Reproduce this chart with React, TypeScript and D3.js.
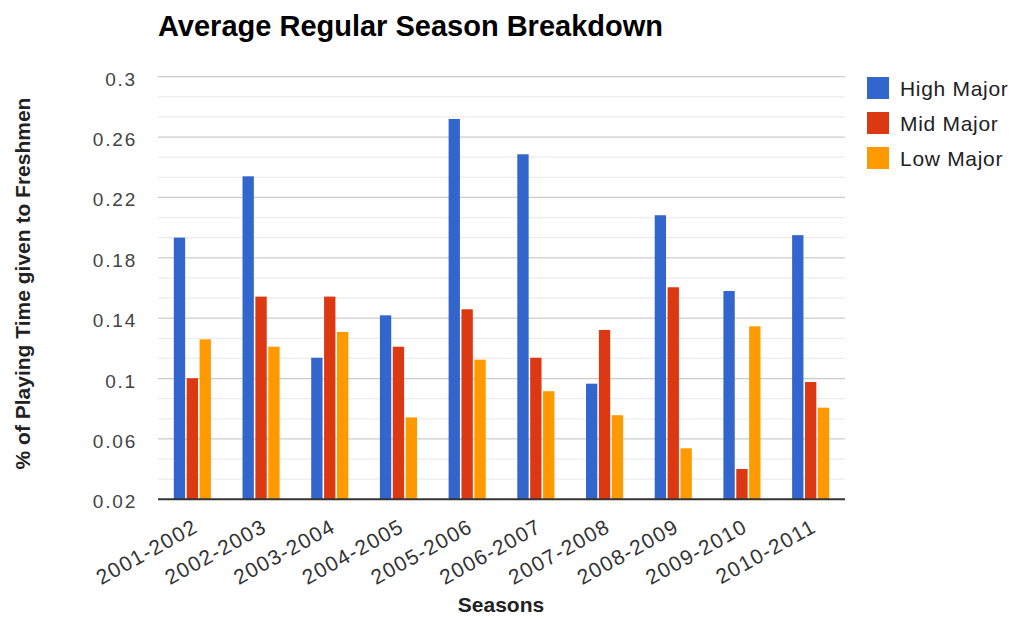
import React from "react";
import * as d3 from "d3";

const seasons = [
  "2001-2002", "2002-2003", "2003-2004", "2004-2005", "2005-2006",
  "2006-2007", "2007-2008", "2008-2009", "2009-2010", "2010-2011",
];
const seriesNames = ["High Major", "Mid Major", "Low Major"];
const seriesColors = ["#3366cc", "#dc3912", "#ff9900"];
const highMajor = [0.1934, 0.234, 0.1138, 0.1419, 0.272, 0.2486, 0.0966, 0.2082, 0.158, 0.195];
const midMajor = [0.1002, 0.1543, 0.1543, 0.1211, 0.1459, 0.1138, 0.1322, 0.1605, 0.0401, 0.0977];
const lowMajor = [0.126, 0.1211, 0.1309, 0.0743, 0.1125, 0.0916, 0.0757, 0.0538, 0.1346, 0.0807];
const yTicks = [0.02, 0.06, 0.1, 0.14, 0.18, 0.22, 0.26, 0.3];
const yTickLabels = ["0.02", "0.06", "0.1", "0.14", "0.18", "0.22", "0.26", "0.3"];

const W = 1011;
const H = 619;
const plot = { left: 158, right: 845, top: 76.7, bottom: 499.3 };
const FONT = "'Liberation Sans', Arial, sans-serif";

export default function App() {
  const values = [highMajor, midMajor, lowMajor];

  const x0 = d3
    .scaleBand<string>()
    .domain(seasons)
    .range([plot.left, plot.right])
    .paddingInner(0.46)
    .paddingOuter(0.23);
  const x1 = d3
    .scaleBand<string>()
    .domain(seriesNames)
    .range([0, x0.bandwidth()])
    .paddingInner(0.12);
  const y = d3.scaleLinear().domain([0.02, 0.3]).range([plot.bottom, plot.top]);

  // minor gridlines: two between each pair of labelled ticks
  const minor: number[] = [];
  for (let i = 0; i < yTicks.length - 1; i++) {
    const step = (yTicks[i + 1] - yTicks[i]) / 3;
    minor.push(yTicks[i] + step, yTicks[i] + 2 * step);
  }

  return (
    <svg
      width={W}
      height={H}
      style={{ position: "absolute", left: 0, top: 0, background: "#fff" }}
      fontFamily={FONT}
    >
      <text x={158} y={36} fontSize={29} fontWeight="bold" fill="#000">
        Average Regular Season Breakdown
      </text>

      {/* grid */}
      {minor.map((v, i) => (
        <line key={"m" + i} x1={plot.left} x2={plot.right} y1={y(v)} y2={y(v)} stroke="#ececec" strokeWidth={1.2} />
      ))}
      {yTicks.map((v, i) =>
        i === 0 ? null : (
          <line key={"g" + i} x1={plot.left} x2={plot.right} y1={y(v)} y2={y(v)} stroke="#cccccc" strokeWidth={1.2} />
        )
      )}

      {/* y tick labels */}
      {yTicks.map((v, i) => (
        <text
          key={"t" + i}
          x={137}
          y={y(v) + 9}
          textAnchor="end"
          fontSize={19}
          letterSpacing={1.8}
          fill="#444"
        >
          {yTickLabels[i]}
        </text>
      ))}

      {/* bars */}
      {seasons.map((s, gi) => (
        <g key={s} transform={`translate(${x0(s)},0)`}>
          {seriesNames.map((n, si) => {
            const v = values[si][gi];
            return (
              <rect
                key={n}
                x={x1(n)}
                y={y(v)}
                width={x1.bandwidth()}
                height={plot.bottom - y(v)}
                fill={seriesColors[si]}
              />
            );
          })}
        </g>
      ))}

      {/* baseline */}
      <line x1={plot.left} x2={plot.right} y1={plot.bottom} y2={plot.bottom} stroke="#333" strokeWidth={2} />

      {/* x labels */}
      {seasons.map((s) => {
        const cx = (x0(s) as number) + x0.bandwidth() / 2;
        return (
          <text
            key={"xl" + s}
            transform={`translate(${cx + 7},${531}) rotate(-29)`}
            textAnchor="end"
            fontSize={21}
            letterSpacing={1.3}
            fill="#333"
          >
            {s}
          </text>
        );
      })}

      {/* axis titles */}
      <text x={501} y={612} textAnchor="middle" fontSize={21} fontWeight="bold" fill="#222">
        Seasons
      </text>
      <text
        transform={`translate(30,${283.5}) rotate(-90)`}
        textAnchor="middle"
        fontSize={21}
        fontWeight="bold"
        fill="#222"
      >
        % of Playing Time given to Freshmen
      </text>

      {/* legend */}
      {seriesNames.map((n, i) => (
        <g key={"lg" + n} transform={`translate(867,${77 + i * 35})`}>
          <rect width={22} height={22} fill={seriesColors[i]} />
          <text x={33} y={11} dy="0.36em" fontSize={21} letterSpacing={0.7} fill="#222">
            {n}
          </text>
        </g>
      ))}
    </svg>
  );
}
